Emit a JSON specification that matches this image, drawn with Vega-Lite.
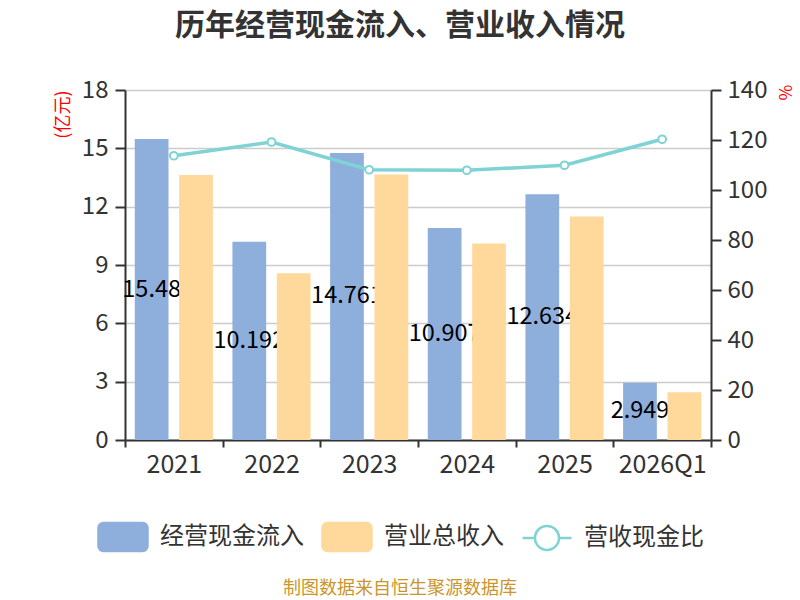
{
  "$schema": "https://vega.github.io/schema/vega-lite/v6.json",
  "description": "历年经营现金流入、营业收入情况",
  "autosize": {"type": "none"},
  "padding": {"left": 125, "top": 90, "right": 89, "bottom": 160},
  "width": 586,
  "height": 350,
  "title": {
    "text": "历年经营现金流入、营业收入情况",
    "fontSize": 30,
    "fontWeight": "bold",
    "color": "#333333",
    "anchor": "middle",
    "frame": "group",
    "offset": 37,
    "dx": -18
  },
  "datasets": {
    "bars": [
      {"year": "2021", "series": "经营现金流入", "value": 15.48},
      {"year": "2022", "series": "经营现金流入", "value": 10.192},
      {"year": "2023", "series": "经营现金流入", "value": 14.761},
      {"year": "2024", "series": "经营现金流入", "value": 10.907},
      {"year": "2025", "series": "经营现金流入", "value": 12.634},
      {"year": "2026Q1", "series": "经营现金流入", "value": 2.949},
      {"year": "2021", "series": "营业总收入", "value": 13.63},
      {"year": "2022", "series": "营业总收入", "value": 8.57},
      {"year": "2023", "series": "营业总收入", "value": 13.66},
      {"year": "2024", "series": "营业总收入", "value": 10.11},
      {"year": "2025", "series": "营业总收入", "value": 11.49},
      {"year": "2026Q1", "series": "营业总收入", "value": 2.45}
    ],
    "ratio": [
      {"year": "2021", "series": "营收现金比", "value": 113.7},
      {"year": "2022", "series": "营收现金比", "value": 119.2},
      {"year": "2023", "series": "营收现金比", "value": 108.1},
      {"year": "2024", "series": "营收现金比", "value": 107.9},
      {"year": "2025", "series": "营收现金比", "value": 109.9},
      {"year": "2026Q1", "series": "营收现金比", "value": 120.3}
    ]
  },
  "encoding": {
    "x": {
      "field": "year",
      "type": "nominal",
      "sort": null,
      "scale": {"paddingInner": 0, "paddingOuter": 0},
      "axis": {
        "title": null,
        "labelAngle": 0,
        "labelFontSize": 25,
        "labelColor": "#333333",
        "labelPadding": 5,
        "tickBand": "extent",
        "tickSize": 7,
        "tickColor": "#333333",
        "tickWidth": 2,
        "domainColor": "#333333",
        "domainWidth": 2,
        "grid": false
      }
    }
  },
  "layer": [
    {
      "data": {"name": "bars"},
      "transform": [{"filter": "datum.series === '经营现金流入'"}],
      "mark": {"type": "bar"},
      "encoding": {
        "xOffset": {
          "field": "series",
          "type": "nominal",
          "scale": {"domain": ["经营现金流入", "营业总收入"], "paddingInner": 0.24, "paddingOuter": 0.22}
        },
        "y": {
          "field": "value",
          "type": "quantitative",
          "scale": {"domain": [0, 18], "nice": false},
          "axis": {
            "orient": "left",
            "values": [0, 3, 6, 9, 12, 15, 18],
            "title": "(亿元)",
            "titleColor": "red",
            "titleFontSize": 18,
            "titleFontWeight": "normal",
            "titleAnchor": "end",
            "titlePadding": 9,
            "labelFontSize": 24,
            "labelColor": "#333333",
            "labelPadding": 7,
            "tickSize": 10,
            "tickColor": "#333333",
            "tickWidth": 2,
            "domainColor": "#333333",
            "domainWidth": 2,
            "grid": true,
            "gridColor": "#cccccc",
            "gridWidth": 1.5
          }
        },
        "color": {
          "field": "series",
          "type": "nominal",
          "scale": {
            "domain": ["经营现金流入", "营业总收入", "营收现金比"],
            "range": ["#8eaedb", "#fed99b", "#7fd3d5"]
          },
          "legend": {
            "orient": "none",
            "legendX": -28,
            "legendY": 421,
            "direction": "horizontal",
            "title": "制图数据来自恒生聚源数据库",
            "titleOrient": "bottom",
            "titleAnchor": "middle",
            "titleFontSize": 18,
            "titleFontWeight": "normal",
            "titleColor": "#c9962c",
            "titlePadding": 24,
            "titleLimit": 600,
            "labelFontSize": 24,
            "labelColor": "#333333",
            "labelOffset": 11,
            "columnPadding": 13,
            "symbolSize": 2401,
            "encode": {
              "symbols": {
                "update": {
                  "shape": {"signal": "datum.value === '营收现金比' ? 'M-1,0H-0.49M0.49,0H1M0.49,0A0.49,0.49 0 1 1 -0.49,0A0.49,0.49 0 1 1 0.49,0Z' : 'M-0.8,-0.57H0.8A0.2,0.2 0 0 1 1,-0.37V0.37A0.2,0.2 0 0 1 0.8,0.57H-0.8A0.2,0.2 0 0 1 -1,0.37V-0.37A0.2,0.2 0 0 1 -0.8,-0.57Z'"},
                  "fill": {"signal": "datum.value === '营收现金比' ? '#ffffff' : (datum.value === '经营现金流入' ? '#8eaedb' : '#fed99b')"},
                  "fillOpacity": {"signal": "datum.value === '营收现金比' ? 0 : 1"},
                  "stroke": {"signal": "datum.value === '营收现金比' ? '#7fd3d5' : 'transparent'"},
                  "strokeWidth": {"value": 2.5},
                  "opacity": {"value": 1}
                }
              }
            }
          }
        }
      }
    },
    {
      "data": {"name": "bars"},
      "transform": [{"filter": "datum.series === '经营现金流入'"}],
      "mark": {"type": "text", "fontSize": 23.5, "color": "#000000", "baseline": "middle", "align": "center"},
      "encoding": {
        "xOffset": {
          "field": "series",
          "type": "nominal",
          "scale": {"domain": ["经营现金流入", "营业总收入"], "paddingInner": 0.24, "paddingOuter": 0.22}
        },
        "y": {
          "field": "value",
          "type": "quantitative",
          "scale": {"domain": [0, 36], "nice": false},
          "axis": null
        },
        "text": {"field": "value", "type": "quantitative"}
      }
    },
    {
      "data": {"name": "bars"},
      "transform": [{"filter": "datum.series === '营业总收入'"}],
      "mark": {"type": "bar"},
      "encoding": {
        "xOffset": {
          "field": "series",
          "type": "nominal",
          "scale": {"domain": ["经营现金流入", "营业总收入"], "paddingInner": 0.24, "paddingOuter": 0.22}
        },
        "y": {
          "field": "value",
          "type": "quantitative",
          "scale": {"domain": [0, 18], "nice": false},
          "axis": null
        },
        "color": {
          "field": "series",
          "type": "nominal",
          "scale": {
            "domain": ["经营现金流入", "营业总收入", "营收现金比"],
            "range": ["#8eaedb", "#fed99b", "#7fd3d5"]
          }
        }
      }
    },
    {
      "data": {"name": "ratio"},
      "encoding": {
        "y": {
          "field": "value",
          "type": "quantitative",
          "scale": {"domain": [0, 140], "nice": false},
          "axis": {
            "orient": "right",
            "values": [0, 20, 40, 60, 80, 100, 120, 140],
            "title": "%",
            "titleColor": "red",
            "titleFontSize": 17,
            "titleFontWeight": "normal",
            "titleAnchor": "end",
            "titleY": 10,
            "titlePadding": 8,
            "labelFontSize": 24,
            "labelColor": "#333333",
            "labelPadding": 6,
            "tickSize": 10,
            "tickColor": "#333333",
            "tickWidth": 2,
            "domainColor": "#333333",
            "domainWidth": 2,
            "grid": false
          }
        }
      },
      "layer": [
        {
          "mark": {"type": "line", "strokeWidth": 3.5},
          "encoding": {
            "color": {
              "field": "series",
              "type": "nominal",
              "scale": {
                "domain": ["经营现金流入", "营业总收入", "营收现金比"],
                "range": ["#8eaedb", "#fed99b", "#7fd3d5"]
              }
            }
          }
        },
        {
          "mark": {"type": "point", "filled": true, "fill": "#ffffff", "stroke": "#7fd3d5", "strokeWidth": 2, "size": 60, "opacity": 1},
          "encoding": {}
        }
      ]
    }
  ],
  "resolve": {"scale": {"y": "independent"}},
  "config": {
    "font": "Noto Sans CJK SC",
    "view": {"stroke": null}
  }
}
